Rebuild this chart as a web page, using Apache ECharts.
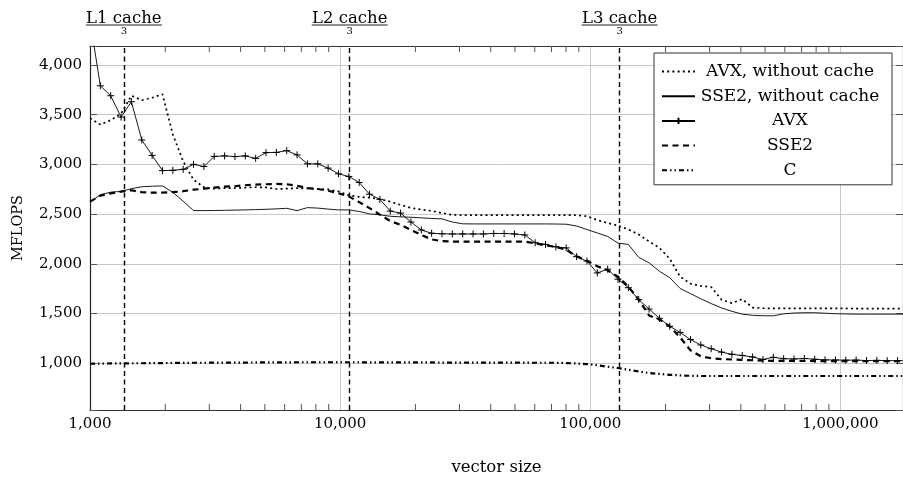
<!DOCTYPE html>
<html><head><meta charset="utf-8">
<script src="https://cdn.jsdelivr.net/npm/echarts@6/dist/echarts.min.js"></script>
<style>html,body{margin:0;padding:0;background:#fff}#c{width:903px;height:477px}</style>
</head><body><div id="c"></div>
<script>
// vector sizes (x), 1000 * 1.1^k
const xs = [1000,1100,1210,1331,1464,1611,1772,1949,2144,2358,
  2594,2853,3138,3452,3797,4177,4595,5054,5560,6116,
  6727,7400,8140,8954,9850,10835,11918,13110,14421,15863,
  17449,19194,21114,23225,25548,28102,30913,34004,37404,41145,
  45259,49785,54764,60240,66264,72890,80180,88197,97017,106719,
  117391,129130,142043,156247,171872,189059,207965,228762,251638,276801,
  304482,334930,368423,405265,445792,490371,539408,593349,652683,717952,
  789747,868722,955594,1051153,1156269,1271895,1399085,1538993,1692893,1862182];

const avxNoCache = [3465,3400,3445,3510,3690,3645,3670,3705,3300,3030,
  2845,2770,2755,2760,2762,2765,2770,2768,2752,2756,
  2760,2758,2752,2748,2728,2688,2673,2665,2650,2625,
  2592,2562,2545,2532,2510,2492,2490,2490,2490,2490,
  2490,2490,2490,2490,2490,2490,2490,2488,2478,2440,
  2410,2385,2345,2295,2225,2160,2050,1870,1800,1778,
  1766,1640,1605,1645,1560,1553,1552,1552,1552,1552,
  1552,1552,1551,1551,1550,1550,1550,1549,1549,1548];

const sse2NoCache = [2620,2695,2720,2728,2755,2775,2780,2783,2718,2630,
  2535,2535,2536,2538,2540,2542,2545,2548,2552,2558,
  2535,2565,2560,2550,2542,2542,2526,2502,2492,2478,
  2472,2468,2462,2456,2452,2420,2402,2401,2401,2401,
  2401,2401,2401,2401,2401,2400,2398,2380,2345,2310,
  2275,2208,2195,2065,2010,1925,1860,1752,1700,1648,
  1600,1557,1522,1494,1482,1478,1477,1497,1505,1508,
  1508,1503,1498,1496,1494,1494,1494,1494,1494,1494];

const avx = [4450,3790,3690,3475,3630,3245,3090,2937,2940,2950,
  3000,2978,3080,3085,3078,3085,3060,3118,3120,3138,
  3095,3005,3005,2962,2905,2878,2818,2700,2648,2530,
  2510,2420,2340,2307,2302,2300,2300,2300,2300,2305,
  2305,2300,2290,2212,2195,2170,2160,2072,2027,1908,
  1946,1845,1760,1640,1545,1452,1372,1310,1238,1184,
  1146,1112,1090,1078,1063,1038,1060,1046,1043,1048,
  1040,1034,1033,1031,1032,1027,1029,1026,1026,1025];

const sse2 = [2625,2685,2708,2726,2740,2720,2716,2716,2720,2730,
  2745,2755,2766,2776,2780,2790,2797,2800,2803,2800,
  2785,2760,2752,2735,2710,2678,2620,2560,2495,2430,
  2392,2340,2290,2245,2228,2223,2223,2223,2223,2223,
  2223,2223,2223,2205,2185,2170,2140,2075,2030,1975,
  1935,1870,1770,1640,1480,1440,1370,1260,1130,1070,
  1050,1042,1038,1034,1030,1026,1024,1024,1023,1023,
  1022,1022,1021,1021,1020,1020,1020,1020,1020,1020];

const cPlain = [995,997,998,999,1000,1000,1001,1002,1003,1004,
  1005,1005,1006,1006,1007,1007,1008,1008,1009,1009,
  1010,1010,1010,1010,1010,1010,1010,1009,1009,1009,
  1008,1008,1008,1008,1007,1007,1007,1007,1006,1006,
  1006,1006,1006,1005,1005,1005,1002,998,992,980,
  965,952,935,918,902,893,884,878,874,872,
  872,872,872,872,872,872,872,872,872,872,
  872,872,872,872,872,872,872,872,872,872];

const seriesNames = ['AVX, without cache','SSE2, without cache','AVX','SSE2','C'];
const cacheNames = ['L1 cache','L2 cache','L3 cache'];
const cacheX = [1365.33, 10922.67, 131072];
const minorTicks = [2000,3000,4000,5000,6000,7000,8000,9000,
  20000,30000,40000,50000,60000,70000,80000,90000,
  200000,300000,400000,500000,600000,700000,800000,900000];

const FONT = 'DejaVu Serif';
const Y_MIN = 530, Y_MAX = 4190, X_MIN = 1000, X_MAX = 1780000;
function fmt(v){ return String(Math.round(v)).replace(/\B(?=(\d{3})+(?!\d))/g, ','); }
function isPow10(v){ const l = Math.log10(v); return Math.abs(l - Math.round(l)) < 1e-6; }
function pairs(ys){ return xs.map((x,i)=>[x, ys[i]]); }
const PLUS = 'path://M0 5 L10 5 M5 0 L5 10';

const chart = echarts.init(document.getElementById('c'), null, {renderer:'canvas'});
const base = {type:'line', symbol:'none', emphasis:{disabled:true}, silent:true, clip:true};
const option = {
  animation:false,
  backgroundColor:'#fff',
  grid:{left:90,right:0,top:46,bottom:67,containLabel:false,outerBoundsMode:'none'},
  xAxis:[{type:'log', logBase:10, min:X_MIN, max:X_MAX,
      name:'vector size', nameLocation:'middle', nameGap:49,
      nameTextStyle:{fontFamily:FONT,fontSize:16.5,color:'#000'},
      axisLine:{show:true,onZero:false,lineStyle:{color:'#333',width:1.2}},
      axisTick:{show:false}, minorTick:{show:false},
      axisLabel:{fontFamily:FONT,fontSize:15,color:'#000',margin:7,
        formatter: v => isPow10(v) ? fmt(v) : ''},
      splitLine:{show:true,lineStyle:{color:'#c8c8c8',width:1}}},
    {type:'log', logBase:10, position:'top', min:X_MIN, max:X_MAX,
      axisLine:{show:true,onZero:false,lineStyle:{color:'#333',width:1.2}},
      axisTick:{show:false}, axisLabel:{show:false}, splitLine:{show:false}}],
  yAxis:[{type:'value', min:Y_MIN, max:Y_MAX, splitNumber:7,
      name:'MFLOPS', nameLocation:'middle', nameGap:64,
      nameTextStyle:{fontFamily:FONT,fontSize:14.5,color:'#000'},
      axisLine:{show:true,onZero:false,lineStyle:{color:'#222',width:1.2}},
      axisTick:{show:true,inside:true,length:7,lineStyle:{color:'#555'}},
      axisLabel:{fontFamily:FONT,fontSize:15,color:'#000',margin:8,
        formatter: v => (v % 500 === 0) ? fmt(v) : ''},
      splitLine:{show:true,lineStyle:{color:'#c8c8c8',width:1}}},
    {type:'value', position:'right', min:Y_MIN, max:Y_MAX, splitNumber:7,
      axisLine:{show:true,onZero:false,lineStyle:{color:'#333',width:1.2}},
      axisTick:{show:true,inside:true,length:7,lineStyle:{color:'#555'}},
      axisLabel:{show:false}, splitLine:{show:false}}],
  legend:{orient:'vertical', right:11, top:53,
    data: seriesNames.map((n,i) => i === 2 ? {name:n} : {name:n, itemStyle:{opacity:0}}),
    backgroundColor:'#fff', borderColor:'#333', borderWidth:1, borderRadius:0,
    padding:[10,12,6,7], itemWidth:33, itemHeight:8, itemGap:7.7, selectedMode:false,
    formatter: n => '{n|' + n + '}',
    textStyle:{rich:{n:{width:180, lineHeight:14, align:'center', fontFamily:FONT, fontSize:17, color:'#000'}}}},
  series:[
    Object.assign({}, base, {name:seriesNames[0], data:pairs(avxNoCache), z:3,
      lineStyle:{color:'#000', width:1.7, type:[2,3.2], cap:'butt'}, itemStyle:{color:'#000'}}),
    Object.assign({}, base, {name:seriesNames[1], data:pairs(sse2NoCache),
      lineStyle:{color:'#000', width:0.9}, itemStyle:{color:'#000'}}),
    Object.assign({}, base, {name:seriesNames[2], data:pairs(avx), symbol:PLUS, symbolSize:7,
      showSymbol:true, showAllSymbol:true,
      lineStyle:{color:'#000', width:0.9}, itemStyle:{color:'#000', borderColor:'#000', borderWidth:1}}),
    Object.assign({}, base, {name:seriesNames[3], data:pairs(sse2),
      lineStyle:{color:'#000', width:2.2, type:[6,4.5]}, itemStyle:{color:'#000'},
      markLine:{silent:true, symbol:['none','none'], animation:false,
        lineStyle:{color:'#000', width:1.4, type:[5,3.5]},
        label:{show:true, position:'end', distance:9.5,
          formatter: p => '{t|' + p.name + '}\n{u|}\n{d|3}',
          rich:{t:{fontFamily:FONT,fontSize:16.5,color:'#000',lineHeight:10,align:'center'},
                u:{width:76,height:1,lineHeight:3,backgroundColor:'#222',align:'center'},
                d:{fontFamily:FONT,fontSize:10,color:'#000',lineHeight:10,align:'center'}}},
        emphasis:{disabled:true},
        data: cacheX.map((x,i)=>({xAxis:x, name:cacheNames[i]}))}}),
    Object.assign({}, base, {name:seriesNames[4], data:pairs(cPlain),
      lineStyle:{color:'#000', width:2.2, type:[5,3,1.5,3,1.5,3]}, itemStyle:{color:'#000'}}),
    {type:'custom', name:'minorTicks', silent:true, z:1,
      data: minorTicks.map(v => [v, Y_MIN]),
      renderItem:(params, api) => {
        const x = api.coord([api.value(0), Y_MIN])[0];
        const cs = params.coordSys;
        const st = {stroke:'#555', lineWidth:1};
        return {type:'group', children:[
          {type:'line', shape:{x1:x, y1:cs.y+cs.height, x2:x, y2:cs.y+cs.height-6}, style:st},
          {type:'line', shape:{x1:x, y1:cs.y, x2:x, y2:cs.y+6}, style:st}]};
      }}
  ]
};
chart.setOption(option);
</script></body></html>
